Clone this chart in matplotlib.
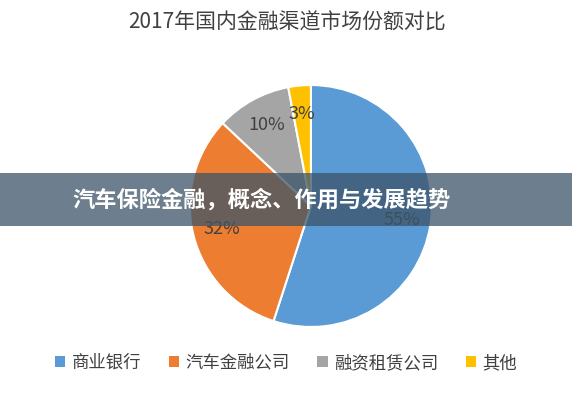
import matplotlib
matplotlib.use("Agg")
import matplotlib.pyplot as plt
from matplotlib.patches import Rectangle, Patch

plt.rcParams['font.family'] = ['Noto Sans CJK SC', 'DejaVu Sans']

title = "2017年国内金融渠道市场份额对比"
categories = ["商业银行", "汽车金融公司", "融资租赁公司", "其他"]
values = [55, 32, 10, 3]
colors = ["#5B9BD5", "#ED7D31", "#A5A5A5", "#FFC000"]
banner_text = "汽车保险金融，概念、作用与发展趋势"

fig = plt.figure(figsize=(5.72, 4.0), dpi=100)
fig.patch.set_facecolor("white")

ax = fig.add_axes([0.332, 0.1825, 0.423, 0.605])
wedges, texts, autotexts = ax.pie(
    values, colors=colors, startangle=90, counterclock=False,
    autopct=lambda p: f"{p:.0f}%", pctdistance=0.76,
    wedgeprops=dict(edgecolor="white", linewidth=1.5),
    textprops=dict(fontsize=13, color="#404040"))
ax.set_xlim(-1.0, 1.0)
ax.set_ylim(-1.0, 1.0)
ax.set_aspect("equal")

fig.text(0.502, 0.943, title, ha="center", va="center", fontsize=15, color="#404040")

handles = [Patch(facecolor=c, edgecolor="none") for c in colors]
fig.legend(handles, categories, loc="center", bbox_to_anchor=(0.5, 0.093), ncol=4,
           frameon=False, fontsize=12.5, handlelength=0.6, handleheight=0.6,
           handletextpad=0.35, columnspacing=1.6, labelcolor="#404040")

fig.add_artist(Rectangle((0, 0.435), 1, 0.1325, transform=fig.transFigure,
                         facecolor="#3c5468", alpha=0.75, edgecolor="none", zorder=5))
fig.text(0.458, 0.5, banner_text, ha="center", va="center", fontsize=16,
         fontweight="bold", color="white", zorder=6)

fig.savefig("out.png", dpi=100)
